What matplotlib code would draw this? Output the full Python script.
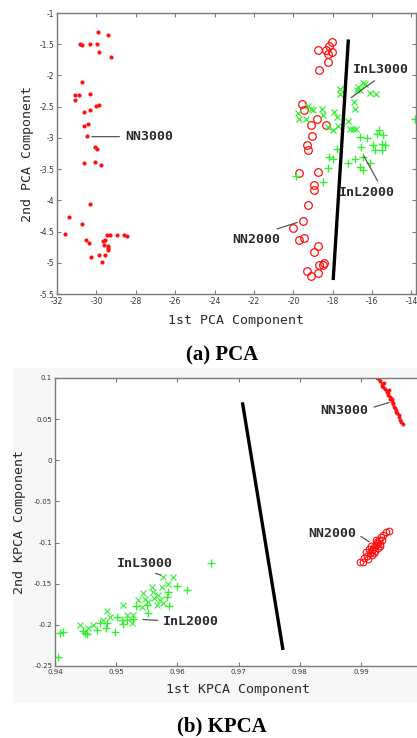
import matplotlib
matplotlib.use("Agg")
import matplotlib.pyplot as plt
from matplotlib.patches import Rectangle

# ---------------- data: (a) PCA ----------------
pca_nn3000_x = [-29.93, -29.43, -30.83, -30.75, -30.32, -29.97, -29.88, -29.27, -30.71, -31.07,
                -30.87, -31.10, -30.34, -30.32, -30.63, -30.02, -29.85, -30.63, -30.41, -30.49,
                -30.09, -29.98, -30.63, -30.07, -29.78, -30.32, -31.39, -30.73, -31.59, -30.53,
                -30.39, -30.26, -29.88, -29.70, -29.55, -29.65, -29.55, -29.44, -29.31, -29.43,
                -29.43, -29.43, -28.94, -28.60, -28.46, -29.61]
pca_nn3000_y = [-1.31, -1.36, -1.49, -1.52, -1.49, -1.49, -1.63, -1.70, -2.10, -2.32,
                -2.32, -2.39, -2.30, -2.55, -2.59, -2.49, -2.47, -2.81, -2.78, -2.97,
                -3.15, -3.17, -3.41, -3.38, -3.44, -4.06, -4.27, -4.38, -4.54, -4.64,
                -4.68, -4.90, -4.87, -4.99, -4.88, -4.65, -4.63, -4.56, -4.55, -4.73,
                -4.76, -4.80, -4.56, -4.56, -4.57, -4.72]

pca_nn2000_x = [-18.02, -18.19, -18.36, -18.74, -18.05, -18.25, -18.22, -18.71, -19.56, -19.48,
                -18.81, -19.10, -18.34, -19.03, -19.32, -19.27, -19.71, -18.73, -18.94, -18.95,
                -19.24, -19.53, -20.03, -19.73, -19.44, -18.73, -18.93, -18.68, -18.51, -18.44,
                -19.29, -19.10, -18.76]
pca_nn2000_y = [-1.46, -1.53, -1.60, -1.60, -1.63, -1.66, -1.78, -1.92, -2.45, -2.56,
                -2.70, -2.79, -2.79, -2.97, -3.12, -3.20, -3.56, -3.55, -3.76, -3.84,
                -4.07, -4.33, -4.44, -4.64, -4.60, -4.73, -4.83, -5.03, -5.03, -5.01,
                -5.13, -5.21, -5.17]

pca_inl3000_x = [-17.63, -17.63, -16.78, -16.61, -16.47, -16.36, -16.73, -16.10, -15.81, -16.93,
                 -16.85, -19.24, -19.12, -18.98, -18.54, -19.74, -19.69, -19.35, -18.47, -17.92,
                 -17.80, -17.21, -18.22, -17.97, -17.71, -17.12, -16.95, -16.83]
pca_inl3000_y = [-2.21, -2.29, -2.23, -2.23, -2.12, -2.14, -2.19, -2.28, -2.30, -2.42,
                 -2.54, -2.49, -2.54, -2.55, -2.54, -2.60, -2.69, -2.70, -2.63, -2.58,
                 -2.66, -2.73, -2.82, -2.88, -2.81, -2.85, -2.86, -2.86]

pca_inl2000_x = [-16.61, -16.27, -15.63, -15.76, -15.43, -15.93, -15.51, -15.34, -15.85, -15.51,
                 -16.58, -16.44, -16.10, -17.80, -18.17, -18.00, -18.22, -18.51, -19.86, -17.21,
                 -16.87, -16.61, -16.44, -13.80]
pca_inl2000_y = [-2.99, -3.00, -2.88, -2.94, -2.96, -3.12, -3.10, -3.12, -3.20, -3.20,
                 -3.15, -3.30, -3.41, -3.17, -3.30, -3.34, -3.49, -3.71, -3.61, -3.40,
                 -3.34, -3.46, -3.52, -2.69]

pca_sep_x = [-17.21, -17.97]
pca_sep_y = [-1.45, -5.25]

pca_xticks = [-32, -30, -28, -26, -24, -22, -20, -18, -16, -14]
pca_yticks = [-1, -1.5, -2, -2.5, -3, -3.5, -4, -4.5, -5, -5.5]
pca_ytick_labels = ["-1", "-1.5", "-2", "-2.5", "-3", "-3.5", "-4", "-4.5", "-5", "-5.5"]

# ---------------- data: (b) KPCA ----------------
kpca_nn3000_x = [0.99267, 0.99310, 0.99338, 0.99364, 0.99420, 0.99446, 0.99474, 0.99502, 0.99518, 0.99539,
                 0.99572, 0.99593, 0.99626, 0.99637, 0.99681, 0.9929, 0.9935, 0.9940, 0.9943, 0.9944,
                 0.9948, 0.9951, 0.9953, 0.9955, 0.9958, 0.9962, 0.9965, 0.9938, 0.9946]
kpca_nn3000_y = [0.1000, 0.0967, 0.0927, 0.0887, 0.0846, 0.0814, 0.0773, 0.0741, 0.0700, 0.0651,
                 0.0611, 0.0578, 0.0550, 0.0490, 0.0441, 0.099, 0.090, 0.087, 0.083, 0.079,
                 0.075, 0.072, 0.068, 0.063, 0.059, 0.053, 0.046, 0.094, 0.085]

kpca_nn2000_x = [0.98984, 0.99049, 0.99098, 0.99147, 0.99180, 0.99212, 0.99245, 0.99261, 0.99294, 0.99327,
                 0.99359, 0.99408, 0.99458, 0.99082, 0.99131, 0.99180, 0.99229, 0.99278, 0.99310, 0.99245,
                 0.99343, 0.99163, 0.99212, 0.99033, 0.99114, 0.99196, 0.99278, 0.99310]
kpca_nn2000_y = [-0.1232, -0.1187, -0.1163, -0.1127, -0.1090, -0.1054, -0.1029, -0.0993, -0.0969, -0.0932,
                 -0.0908, -0.0871, -0.0856, -0.1115, -0.1078, -0.1151, -0.1102, -0.1066, -0.1017, -0.0969,
                 -0.0969, -0.1042, -0.1127, -0.1236, -0.1200, -0.1080, -0.1000, -0.1045]

kpca_inl2000_x = [0.94082, 0.94136, 0.9449, 0.9452, 0.9446, 0.94692, 0.94735, 0.94845, 0.94833, 0.9498,
                  0.95008, 0.9509, 0.95117, 0.95172, 0.9527, 0.95324, 0.95525, 0.95498, 0.95852, 0.95825,
                  0.95868, 0.95989, 0.96152, 0.96549, 0.94054]
kpca_inl2000_y = [-0.2095, -0.2083, -0.2099, -0.2110, -0.2070, -0.2062, -0.1981, -0.1981, -0.2042, -0.2083,
                  -0.1900, -0.1941, -0.1990, -0.1941, -0.1933, -0.1771, -0.1860, -0.1759, -0.1597, -0.1658,
                  -0.1771, -0.1528, -0.1576, -0.1252, -0.2387]

kpca_inl3000_x = [0.9577, 0.95923, 0.9558, 0.95443, 0.95606, 0.95688, 0.95618, 0.95716, 0.95662, 0.9577,
                  0.95525, 0.95417, 0.95361, 0.95471, 0.95852, 0.95117, 0.95279, 0.95172, 0.94855, 0.94899,
                  0.94626, 0.94408, 0.94544, 0.94789, 0.95253, 0.95743]
kpca_inl3000_y = [-0.1414, -0.1414, -0.1536, -0.1616, -0.1597, -0.1637, -0.1677, -0.1698, -0.1759, -0.1731,
                  -0.1718, -0.1779, -0.1698, -0.1690, -0.1503, -0.1759, -0.1880, -0.1880, -0.1828, -0.1900,
                  -0.2002, -0.2002, -0.2042, -0.1941, -0.1981, -0.1536]

kpca_sep_x = [0.97067, 0.97721]
kpca_sep_y = [0.0684, -0.2285]

kpca_xticks = [0.94, 0.95, 0.96, 0.97, 0.98, 0.99]
kpca_yticks = [0.1, 0.05, 0, -0.05, -0.1, -0.15, -0.2, -0.25]
kpca_ytick_labels = ["0.1", "0.05", "0", "-0.05", "-0.1", "-0.15", "-0.2", "-0.25"]

# ---------------- styling ----------------
RED = "#ff1010"
GREEN = "#33ee33"
SPINE = "#7a7a7a"
TXT = "#2a2a2a"
MONO = "DejaVu Sans Mono"

W, H = 417, 738
fig = plt.figure(figsize=(W / 100, H / 100), dpi=100)
fig.patch.set_facecolor("white")

# light gray figure background of the bottom screenshot
fig.add_artist(Rectangle((13 / W, 1 - 703 / H), (W - 13) / W, (703 - 368) / H,
                         transform=fig.transFigure, facecolor="#f7f7f7", edgecolor="none", zorder=0))


def style_axes(ax, xticks, yticks, ylabels, xfmt, right=True):
    ax.set_xticks(xticks)
    ax.set_xticklabels([xfmt(v) for v in xticks])
    ax.set_yticks(yticks)
    ax.set_yticklabels(ylabels)
    ax.tick_params(direction="in", length=3, width=0.8, color=SPINE, top=True, right=right,
                   labelsize=5.5, labelcolor="#333333", pad=2)
    for s in ax.spines.values():
        s.set_color(SPINE)
        s.set_linewidth(1.0)
    ax.set_facecolor("white")


# ---------------- (a) PCA ----------------
ax1 = fig.add_axes([57 / W, 1 - 294 / H, 359 / W, 281 / H])
ax1.plot(pca_nn3000_x, pca_nn3000_y, "o", color=RED, ms=3.0, mec=RED, mew=0)
ax1.plot(pca_nn2000_x, pca_nn2000_y, "o", mfc="none", mec=RED, ms=5.5, mew=0.9)
ax1.plot(pca_inl3000_x, pca_inl3000_y, "x", color=GREEN, ms=4.2, mew=0.9)
ax1.plot(pca_inl2000_x, pca_inl2000_y, "+", color=GREEN, ms=6, mew=1.0, clip_on=False)
ax1.plot(pca_sep_x, pca_sep_y, "-", color="black", lw=2.4)
ax1.set_xlim(-32, -13.77)
ax1.set_ylim(-5.5, -1)
style_axes(ax1, pca_xticks, pca_yticks, pca_ytick_labels, lambda v: f"{v:d}")
ax1.set_xlabel("1st PCA Component", fontsize=9.5, family=MONO, color=TXT, labelpad=6)
ax1.set_ylabel("2nd PCA Component", fontsize=9.5, family=MONO, color=TXT, labelpad=4)

ann = dict(fontsize=9.5, family=MONO, color=TXT, fontweight="bold")
arr = dict(arrowstyle="-", color="#555555", lw=0.9)
ax1.annotate("NN3000", xy=(-30.37, -2.98), xytext=(-28.55, -2.98), va="center", ha="left",
             arrowprops=arr, **ann)
ax1.annotate("InL3000", xy=(-17.17, -2.38), xytext=(-17.0, -1.91), va="center", ha="left",
             arrowprops=dict(arr, relpos=(0.5, 0)), **ann)
ax1.annotate("InL2000", xy=(-16.49, -3.25), xytext=(-17.7, -3.88), va="center", ha="left",
             arrowprops=dict(arr, relpos=(0.75, 1)), **ann)
ax1.annotate("NN2000", xy=(-19.66, -4.34), xytext=(-23.1, -4.62), va="center", ha="left",
             arrowprops=dict(arr, relpos=(0.7, 1)), **ann)

fig.text(222 / W, 1 - 355 / H, "(a) PCA", ha="center", va="center",
         family="Liberation Serif", fontweight="bold", fontsize=15)

# ---------------- (b) KPCA ----------------
ax2 = fig.add_axes([55 / W, 1 - 666 / H, 365 / W, 288 / H])
ax2.plot(kpca_nn3000_x, kpca_nn3000_y, "o", color=RED, ms=2.8, mec=RED, mew=0)
ax2.plot(kpca_nn2000_x, kpca_nn2000_y, "o", mfc="none", mec=RED, ms=4.8, mew=0.8)
ax2.plot(kpca_inl3000_x, kpca_inl3000_y, "x", color=GREEN, ms=3.8, mew=0.8)
ax2.plot(kpca_inl2000_x, kpca_inl2000_y, "+", color=GREEN, ms=5.5, mew=1.0)
ax2.plot(kpca_sep_x, kpca_sep_y, "-", color="black", lw=2.4)
ax2.set_xlim(0.94, 0.94 + 365 / 6120)
ax2.set_ylim(-0.25, 0.1)
style_axes(ax2, kpca_xticks, kpca_yticks, kpca_ytick_labels, lambda v: f"{v:.2f}", right=False)
ax2.tick_params(labelsize=5)
ax2.set_xlabel("1st KPCA Component", fontsize=9.5, family=MONO, color=TXT, labelpad=6)
ax2.set_ylabel("2nd KPCA Component", fontsize=9.5, family=MONO, color=TXT, labelpad=6)

ax2.annotate("InL3000", xy=(0.9577, -0.1406), xytext=(0.9501, -0.125), va="center", ha="left",
             arrowprops=dict(arr, relpos=(0.5, 0)), **ann)
ax2.annotate("InL2000", xy=(0.95389, -0.1933), xytext=(0.9577, -0.1965), va="center", ha="left",
             arrowprops=dict(arr, relpos=(0, 0.6)), **ann)
ax2.annotate("NN3000", xy=(0.99502, 0.0712), xytext=(0.9834, 0.0611), va="center", ha="left",
             arrowprops=dict(arr, relpos=(1, 0.6)), **ann)
ax2.annotate("NN2000", xy=(0.99175, -0.1009), xytext=(0.9813, -0.0887), va="center", ha="left",
             arrowprops=dict(arr, relpos=(1, 0.5)), **ann)

fig.text(222 / W, 1 - 726 / H, "(b) KPCA", ha="center", va="center",
         family="Liberation Serif", fontweight="bold", fontsize=15)

fig.savefig("out.png", dpi=100)
